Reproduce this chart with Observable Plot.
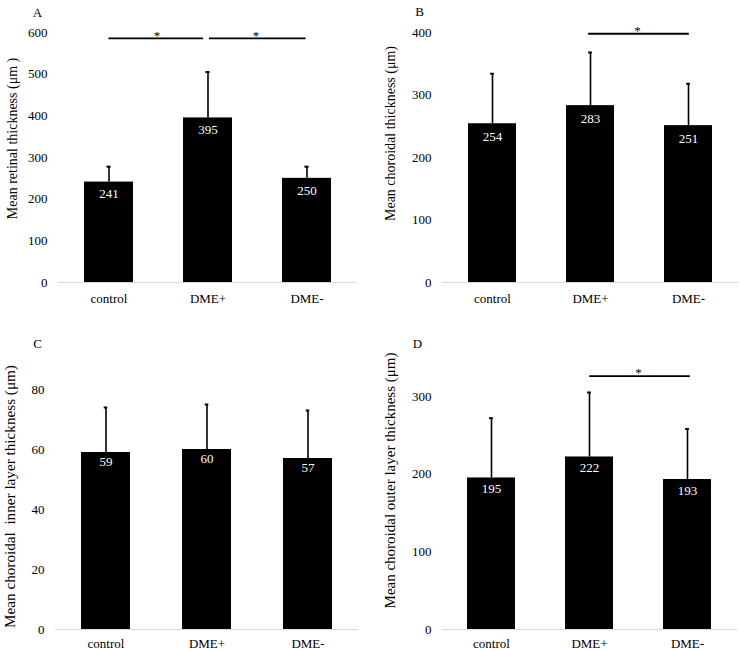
<!DOCTYPE html>
<html><head><meta charset="utf-8">
<script src="https://cdn.jsdelivr.net/npm/d3@7"></script>
<script src="https://cdn.jsdelivr.net/npm/@observablehq/plot@0.6"></script>
<style>
body{margin:0;background:#fff;}
#grid{display:grid;grid-template-columns:370px 370px;grid-template-rows:320px 330px;width:740px;height:650px;}
#grid svg{overflow:visible;display:block}
</style></head><body><div id="grid"></div>
<script>
const groups = ["control", "DME+", "DME-"];

const retinalMean = [241, 395, 250];
const retinalSD = [37, 110, 28];
const choroidalMean = [254, 283, 251];
const choroidalSD = [80, 85, 67];
const innerMean = [59, 60, 57];
const innerSD = [15, 15, 16];
const outerMean = [195, 222, 193];
const outerSD = [77, 83, 65];

const retinalTicks = [0, 100, 200, 300, 400, 500, 600];
const choroidalTicks = [0, 100, 200, 300, 400];
const innerTicks = [0, 20, 40, 60, 80];
const outerTicks = [0, 100, 200, 300];

const sigA = [{a: "control", b: "DME+", y: 586}, {a: "DME+", b: "DME-", y: 586}];
const sigB = [{a: "DME+", b: "DME-", y: 398}];
const sigD = [{a: "DME+", b: "DME-", y: 326}];

const titles = ["Mean retinal thickness (μm )", "Mean choroidal thickness (μm)",
  "Mean choroidal  inner layer thickness (μm)", "Mean choroidal outer layer thickness (μm)"];
const letters = ["A", "B", "C", "D"];

const FONT = "'Liberation Serif', 'Times New Roman', serif";

function panel(o) {
  const rows = groups.map((g, i) => ({g, m: o.means[i], top: o.means[i] + o.sds[i]}));
  const bw = o.bw;
  const marks = [
    Plot.ruleY([0], {stroke: "#d9d9d9", strokeWidth: 1}),
    Plot.barY(rows, {x: "g", y: "m", fill: "#000"}),
    Plot.ruleX(rows, {x: "g", y1: "m", y2: "top", stroke: "#000", strokeWidth: 1.6}),
    Plot.tickY(rows, {x: "g", y: "top", stroke: "#000", strokeWidth: 2, insetLeft: bw / 2 - 2, insetRight: bw / 2 - 2}),
    Plot.text(rows, {x: "g", y: "m", text: d => String(d.m), dy: o.labelDy, fill: "#fff", fontSize: 13}),
    Plot.text([o.title], {text: d => d, frameAnchor: "left", textAnchor: "middle", rotate: -90, dx: o.titleDx, dy: o.titleDy, fontSize: o.titleSize, fill: "#000"}),
    Plot.text([o.letter], {text: d => d, frameAnchor: "top-left", textAnchor: "middle", dx: o.letterDx, dy: o.letterDy, fontSize: 13, fill: "#000"})
  ];
  (o.sig || []).forEach((s, k) => {
    const ins = o.sigInsets[k];
    marks.push(Plot.ruleY([s], {x1: "a", x2: "b", y: "y", stroke: "#000", strokeWidth: 1.8,
      insetLeft: bw / 2 + ins[0], insetRight: bw / 2 + ins[1]}));
    marks.push(Plot.text([s], {x: "a", y: "y", text: () => "*", dx: o.starDx, dy: -3, fontSize: 13, fill: "#000"}));
  });
  return Plot.plot({
    width: 370, height: o.h,
    marginLeft: o.ml, marginRight: o.mr, marginTop: o.mt, marginBottom: o.mb,
    style: {fontFamily: FONT, fontSize: "13px", color: "#000", background: "#fff", overflow: "visible"},
    x: {domain: groups, paddingInner: 0.51, paddingOuter: 0.255, label: null, tickSize: 0, tickPadding: o.xPad},
    y: {domain: o.domain, ticks: o.ticks, label: null, tickSize: 0, tickPadding: 11},
    marks
  });
}

const grid = document.getElementById("grid");
grid.append(panel({means: retinalMean, sds: retinalSD, domain: [0, 600], ticks: retinalTicks,
  title: titles[0], letter: letters[0], sig: sigA, sigInsets: [[0, 4.5], [1.5, 1]], starDx: 48,
  h: 320, ml: 58, mr: 13, mt: 32, mb: 38, bw: 48.8, labelDy: 12, xPad: 11,
  titleDx: -46, titleDy: -19, titleSize: 14, letterDx: -21, letterDy: -25}));
grid.append(panel({means: choroidalMean, sds: choroidalSD, domain: [0, 400], ticks: choroidalTicks,
  title: titles[1], letter: letters[1], sig: sigB, sigInsets: [[-2, -1]], starDx: 47,
  h: 320, ml: 72, mr: 2, mt: 32, mb: 38, bw: 48.3, labelDy: 13, xPad: 11,
  titleDx: -52, titleDy: -24, titleSize: 14, letterDx: -23, letterDy: -26}));
grid.append(panel({means: innerMean, sds: innerSD, domain: [0, 90], ticks: innerTicks,
  title: titles[2], letter: letters[2], sig: [], sigInsets: [],
  h: 330, ml: 55, mr: 12, mt: 39, mb: 21, bw: 49.4, labelDy: 9, xPad: 9,
  titleDx: -45, titleDy: 2, titleSize: 15.2, letterDx: -18, letterDy: -21}));
grid.append(panel({means: outerMean, sds: outerSD, domain: [0, 350], ticks: outerTicks,
  title: titles[3], letter: letters[3], sig: sigD, sigInsets: [[0, -3]], starDx: 49,
  h: 330, ml: 72, mr: 3, mt: 37, mb: 21, bw: 48.3, labelDy: 11, xPad: 9,
  titleDx: -52, titleDy: -13, titleSize: 15, letterDx: -25, letterDy: -19}));
</script></body></html>
